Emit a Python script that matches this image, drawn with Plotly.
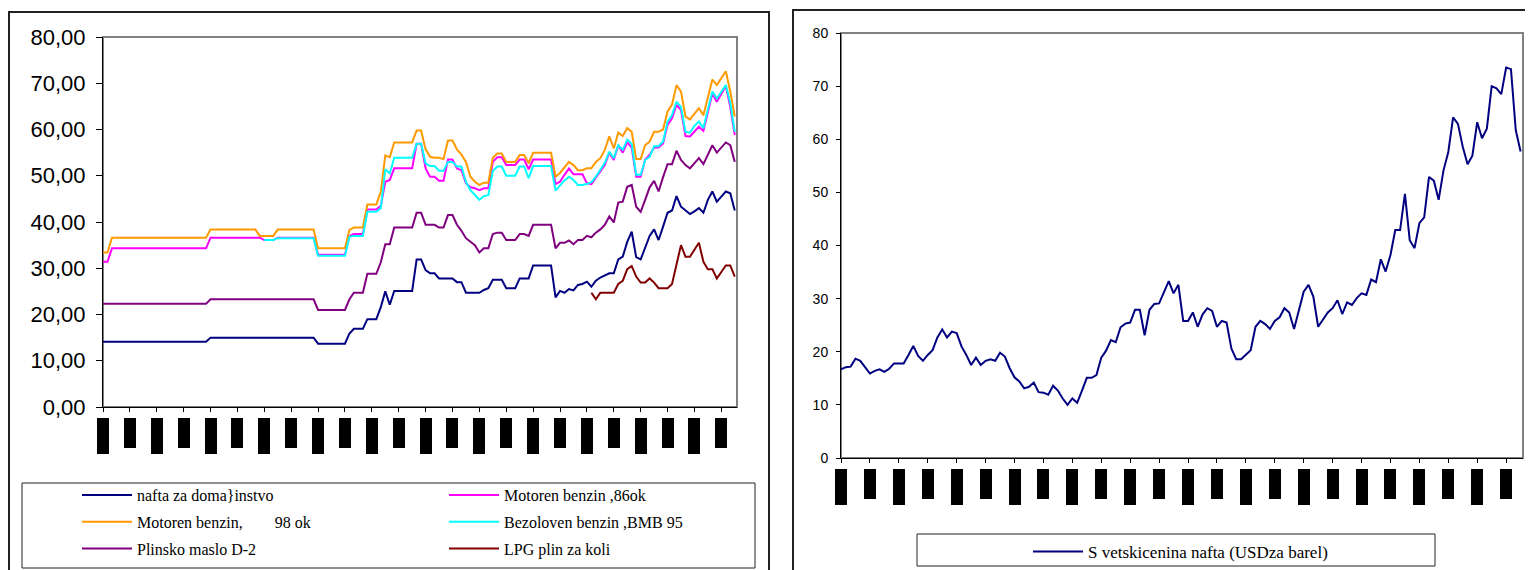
import plotly.graph_objects as go

# The page body has an 8px default margin, so the figure is sized to fill the
# remaining window and every pixel position below is given in window pixels.
OX, OY = 8, 8
W, H = 1533 - OX, 570 - OY


def px(x):
    return (x - OX) / W


def py(y):
    return 1 - (y - OY) / H


# ---------------- data ----------------
months = list(range(142))            # monthly categories (index)
tick_months = list(range(0, 139, 6))  # one tick label every 6 months
left_ytick = [0, 10, 20, 30, 40, 50, 60, 70, 80]
left_yticktext = ["0,00", "10,00", "20,00", "30,00", "40,00", "50,00", "60,00", "70,00", "80,00"]
right_ytick = [0, 10, 20, 30, 40, 50, 60, 70, 80]

nafta = [
    14.1, 14.1, 14.1, 14.1, 14.1, 14.1, 14.1, 14.1, 14.1, 14.1, 14.1, 14.1,
    14.1, 14.1, 14.1, 14.1, 14.1, 14.1, 14.1, 14.1, 14.1, 14.1, 14.1, 14.1,
    15.0, 15.0, 15.0, 15.0, 15.0, 15.0, 15.0, 15.0, 15.0, 15.0, 15.0, 15.0,
    15.0, 15.0, 15.0, 15.0, 15.0, 15.0, 15.0, 15.0, 15.0, 15.0, 15.0, 15.0,
    13.7, 13.7, 13.7, 13.7, 13.7, 13.7, 13.7,
    15.9, 16.9, 16.9, 16.9, 19.0, 19.0, 19.0, 21.6, 25.0, 22.1,
    25.1, 25.1, 25.1, 25.1, 25.1, 31.9, 31.9, 29.6, 28.9, 28.9,
    27.8, 27.8, 27.8, 27.8, 27.0, 27.0, 24.7, 24.7, 24.7, 24.7,
    25.3, 25.7, 27.5, 27.5, 27.5, 25.7, 25.7, 25.7, 27.8, 27.8,
    27.8, 30.6, 30.6, 30.6, 30.6, 30.6,
    23.7, 25.1, 24.7, 25.5, 25.2, 26.4, 26.6, 27.1, 26.0, 27.3,
    28.0, 28.5, 28.9, 28.9, 31.9, 32.5, 35.7, 37.9, 32.4, 31.9,
    34.5, 37.0, 38.4, 36.1, 39.0, 42.0, 42.5, 45.6, 43.3, 42.5,
    41.7, 42.3, 43.0, 42.0, 44.8, 46.6, 44.4, 45.5, 46.6, 46.2, 42.5,
]

benzin86 = [
    31.4, 31.4,
    34.3, 34.3, 34.3, 34.3, 34.3, 34.3, 34.3, 34.3, 34.3, 34.3, 34.3,
    34.3, 34.3, 34.3, 34.3, 34.3, 34.3, 34.3, 34.3, 34.3, 34.3, 34.3,
    36.6, 36.6, 36.6, 36.6, 36.6, 36.6, 36.6, 36.6, 36.6, 36.6, 36.6, 36.6,
    36.1, 36.1, 36.1,
    36.6, 36.6, 36.6, 36.6, 36.6, 36.6, 36.6, 36.6, 36.6,
    32.9, 32.9, 32.9, 32.9, 32.9, 32.9, 32.9,
    37.0, 37.4, 37.4, 37.4, 42.7, 42.7, 42.7, 43.5, 48.7, 49.1,
    51.6, 51.6, 51.6, 51.6, 51.6, 56.9, 56.9, 51.6, 49.8, 49.8,
    48.9, 48.9, 53.5, 53.5, 51.6, 51.2, 48.4, 47.5, 47.3, 46.9,
    47.3, 47.3, 53.0, 54.0, 54.0, 52.3, 52.3, 52.3, 53.5, 53.5,
    51.4, 53.5, 53.5, 53.5, 53.5, 53.5,
    48.2, 48.7, 50.2, 51.6, 50.3, 50.3, 50.3, 48.4, 48.2, 49.6,
    50.9, 52.3, 55.0, 53.4, 56.6, 55.0, 57.2, 56.1, 49.8, 49.8,
    53.5, 54.5, 56.1, 56.1, 57.0, 61.0, 62.4, 65.3, 64.2, 58.6,
    58.5, 59.6, 60.6, 59.7, 63.8, 67.8, 66.0, 67.7, 69.4, 64.9, 58.8,
]

benzin98 = [
    33.4, 33.4,
    36.6, 36.6, 36.6, 36.6, 36.6, 36.6, 36.6, 36.6, 36.6, 36.6, 36.6,
    36.6, 36.6, 36.6, 36.6, 36.6, 36.6, 36.6, 36.6, 36.6, 36.6, 36.6,
    38.4, 38.4, 38.4, 38.4, 38.4, 38.4, 38.4, 38.4, 38.4, 38.4, 38.4,
    37.0, 37.0, 37.0, 37.0,
    38.4, 38.4, 38.4, 38.4, 38.4, 38.4, 38.4, 38.4, 38.4,
    34.3, 34.3, 34.3, 34.3, 34.3, 34.3, 34.3,
    38.3, 38.8, 38.8, 38.8, 43.8, 43.8, 43.8, 46.5, 54.4, 54.0,
    57.2, 57.2, 57.2, 57.2, 57.2, 59.8, 59.8, 55.7, 54.1, 53.9,
    53.9, 53.6, 57.6, 57.6, 55.7, 54.6, 53.0, 49.8, 48.7, 48.0,
    48.5, 48.5, 53.9, 54.8, 54.8, 53.0, 53.0, 53.0, 54.5, 54.5,
    52.7, 55.0, 55.0, 55.0, 55.0, 55.0,
    49.8, 50.6, 51.8, 53.0, 52.3, 51.2, 51.2, 51.6, 51.6, 53.0,
    53.8, 55.6, 58.5, 55.9, 59.3, 58.6, 60.3, 59.5, 53.6, 53.6,
    56.6, 57.4, 59.5, 59.5, 60.0, 63.9, 65.4, 69.6, 68.2, 62.8,
    62.2, 63.4, 64.6, 63.1, 67.0, 70.8, 69.6, 71.2, 72.6, 68.2, 62.8,
]

bmb95_start = 36
bmb95 = [
    36.1, 36.1, 36.1,
    36.5, 36.5, 36.5, 36.5, 36.5, 36.5, 36.5, 36.5, 36.5,
    32.7, 32.7, 32.7, 32.7, 32.7, 32.7, 32.7,
    36.8, 37.0, 37.0, 37.0, 42.2, 42.2, 42.2, 43.0, 51.4, 50.5,
    53.9, 53.9, 53.9, 53.9, 53.9, 56.9, 56.9, 52.7, 52.1, 52.1,
    51.1, 51.1, 53.0, 53.0, 52.0, 52.0, 48.7, 46.9, 45.8, 44.8,
    45.6, 45.8, 51.0, 52.0, 52.0, 50.0, 50.0, 50.0, 52.0, 52.0,
    49.5, 52.1, 52.1, 52.1, 52.1, 52.1,
    46.8, 48.0, 49.0, 49.8, 49.1, 48.0, 48.0, 48.2, 48.6, 49.8,
    51.2, 52.8, 55.2, 53.8, 56.6, 55.6, 57.8, 56.9, 50.2, 50.2,
    53.4, 54.1, 56.4, 56.4, 57.4, 61.7, 63.1, 66.0, 64.9, 59.5,
    59.3, 60.8, 61.7, 60.3, 64.3, 68.2, 66.7, 68.2, 69.6, 65.8, 59.5,
]

d2 = [
    22.3, 22.3, 22.3, 22.3, 22.3, 22.3, 22.3, 22.3, 22.3, 22.3, 22.3, 22.3,
    22.3, 22.3, 22.3, 22.3, 22.3, 22.3, 22.3, 22.3, 22.3, 22.3, 22.3, 22.3,
    23.3, 23.3, 23.3, 23.3, 23.3, 23.3, 23.3, 23.3, 23.3, 23.3, 23.3, 23.3,
    23.3, 23.3, 23.3, 23.3, 23.3, 23.3, 23.3, 23.3, 23.3, 23.3, 23.3, 23.3,
    21.0, 21.0, 21.0, 21.0, 21.0, 21.0, 21.0,
    23.3, 24.7, 24.7, 24.7, 28.8, 28.8, 28.8, 31.3, 35.2, 35.2,
    38.8, 38.8, 38.8, 38.8, 38.8, 42.0, 42.0, 39.4, 39.4, 39.4,
    38.8, 38.8, 41.5, 41.5, 39.4, 38.1, 36.5, 35.7, 35.0, 33.4,
    34.3, 34.3, 37.4, 37.7, 37.7, 36.1, 36.1, 36.1, 37.4, 37.4,
    37.0, 39.4, 39.4, 39.4, 39.4, 39.4,
    34.3, 35.5, 35.5, 36.0, 35.2, 36.1, 36.1, 37.0, 36.7, 37.7,
    38.4, 39.4, 41.2, 39.9, 44.2, 44.4, 47.6, 48.0, 43.3, 42.2,
    44.8, 47.5, 48.9, 46.6, 49.7, 52.5, 52.5, 55.4, 53.4, 52.3,
    51.6, 52.7, 53.8, 52.5, 54.5, 56.6, 55.0, 56.2, 57.2, 56.6, 53.0,
]

lpg_start = 109
lpg = [
    24.7, 23.3, 24.7, 24.7, 24.7, 24.7, 26.6, 27.3, 29.8, 30.5,
    28.2, 26.9, 26.9, 27.8, 26.9, 25.7, 25.7, 25.7, 26.6, 30.9,
    35.0, 32.5, 32.5, 34.0, 35.5, 31.4, 29.8, 29.8, 27.8, 29.2,
    30.6, 30.6, 28.2,
]

crude = [
    16.7, 17.1, 17.2, 18.7, 18.3, 17.1, 15.9, 16.4, 16.7, 16.2,
    16.8, 17.8, 17.8, 17.8, 19.4, 21.1, 19.2, 18.3, 19.4, 20.3,
    22.7, 24.2, 22.7, 23.8, 23.5, 21.0, 19.4, 17.5, 18.9, 17.5,
    18.3, 18.6, 18.3, 19.8, 19.1, 16.9, 15.2, 14.4, 13.1, 13.4,
    14.2, 12.4, 12.3, 11.9, 13.6, 12.7, 11.2, 10.0, 11.2, 10.4,
    12.7, 15.1, 15.1, 15.6, 18.9, 20.2, 22.2, 21.8, 24.6, 25.3,
    25.5, 27.9, 27.9, 23.1, 27.9, 29.0, 29.1, 31.2, 33.3, 31.0,
    32.6, 25.8, 25.8, 27.4, 24.7, 27.0, 28.2, 27.7, 24.7, 25.8,
    25.5, 20.6, 18.6, 18.6, 19.4, 20.3, 24.7, 25.8, 25.2, 24.3,
    25.8, 26.5, 28.2, 27.4, 24.3, 28.0, 31.3, 32.6, 30.4, 24.7,
    26.0, 27.4, 28.2, 29.7, 27.1, 29.3, 28.8, 30.1, 31.0, 30.7,
    33.6, 33.1, 37.4, 35.1, 38.2, 42.9, 42.9, 49.7, 41.0, 39.5,
    44.2, 45.3, 52.9, 52.2, 48.6, 54.1, 57.6, 64.1, 62.9, 58.6,
    55.3, 56.9, 63.2, 60.2, 62.0, 70.0, 69.6, 68.5, 73.5, 73.2,
    61.7, 57.7,
]

left_series = [
    ("nafta za doma}instvo", nafta, 0, "#000080", "legend"),
    ("Motoren benzin ,86ok", benzin86, 0, "#FF00FF", "legend2"),
    ("Motoren benzin,\u00a0\u00a0\u00a0\u00a0\u00a0\u00a0\u00a0\u00a098 ok", benzin98, 0, "#FF9900", "legend"),
    ("Bezoloven benzin ,BMB 95", bmb95, bmb95_start, "#00FFFF", "legend2"),
    ("Plinsko maslo D-2", d2, 0, "#800080", "legend"),
    ("LPG plin za koli", lpg, lpg_start, "#800000", "legend2"),
]
right_name = "S vetskicenina nafta (USDza barel)"

# ---------------- figure ----------------
fig = go.Figure()
for k, (name, vals, start, color, leg) in enumerate(left_series):
    fig.add_trace(go.Scatter(
        x=months[start:start + len(vals)], y=vals, name=name, mode="lines",
        line=dict(color=color, width=2), xaxis="x", yaxis="y",
        legend=leg, legendgroup="g%d" % k, hoverinfo="skip",
    ))
fig.add_trace(go.Scatter(
    x=months[:len(crude)], y=crude, name=right_name, mode="lines",
    line=dict(color="#000080", width=2), xaxis="x2", yaxis="y2",
    legend="legend3", hoverinfo="skip",
))

XR = [0, 141.5]
axis_common = dict(showgrid=False, zeroline=False, showline=True, linecolor="black",
                   linewidth=1, ticks="outside", tickcolor="black", tickwidth=1,
                   fixedrange=True)
leg_font = dict(family="Liberation Serif", size=16, color="black")

fig.update_layout(
    width=W, height=H, margin=dict(l=0, r=0, t=0, b=0, autoexpand=False),
    paper_bgcolor="white", plot_bgcolor="white", showlegend=True,
    xaxis=dict(domain=[px(103), px(737)], range=XR, anchor="y",
               tickvals=tick_months, ticklen=4, showticklabels=False, **axis_common),
    yaxis=dict(domain=[py(407), py(37)], range=[0, 80], anchor="x",
               tickvals=left_ytick, ticktext=left_yticktext, ticklen=6,
               ticklabelstandoff=6,
               tickfont=dict(family="Liberation Sans", size=22, color="black"),
               **axis_common),
    xaxis2=dict(domain=[px(841), px(1523)], range=XR, anchor="y2",
                tickvals=tick_months, ticklen=4, showticklabels=False, **axis_common),
    yaxis2=dict(domain=[py(458), py(33)], range=[0, 80], anchor="x2",
                tickvals=right_ytick, ticklen=4, ticklabelstandoff=5,
                tickfont=dict(family="Liberation Sans", size=14, color="black"),
                **axis_common),
    legend=dict(x=px(77), y=py(478), xanchor="left", yanchor="top",
                bgcolor="rgba(0,0,0,0)", borderwidth=0, tracegroupgap=3,
                itemwidth=50, font=leg_font),
    legend2=dict(x=px(444), y=py(478), xanchor="left", yanchor="top",
                 bgcolor="rgba(0,0,0,0)", borderwidth=0, tracegroupgap=3,
                 itemwidth=50, font=leg_font),
    legend3=dict(x=px(1028), y=py(534), xanchor="left", yanchor="top",
                 bgcolor="rgba(0,0,0,0)", borderwidth=0,
                 itemwidth=50, font=dict(family="Liberation Serif", size=17, color="black")),
)

shapes = []
# plot-area frames (grey)
shapes.append(dict(type="rect", xref="paper", yref="paper", x0=px(103), x1=px(737),
                   y0=py(407), y1=py(37), line=dict(color="#808080", width=2), layer="below"))
shapes.append(dict(type="rect", xref="paper", yref="paper", x0=px(841), x1=px(1523),
                   y0=py(458), y1=py(33), line=dict(color="#808080", width=2), layer="below"))
# outer chart borders
shapes.append(dict(type="rect", xref="paper", yref="paper", x0=px(9), x1=px(769),
                   y0=py(580), y1=py(12), line=dict(color="#222222", width=2)))
shapes.append(dict(type="rect", xref="paper", yref="paper", x0=px(793), x1=px(1545),
                   y0=py(580), y1=py(10), line=dict(color="#222222", width=2)))
# legend boxes
shapes.append(dict(type="rect", xref="paper", yref="paper", x0=px(22), x1=px(755),
                   y0=py(568), y1=py(483), line=dict(color="#222222", width=1)))
shapes.append(dict(type="rect", xref="paper", yref="paper", x0=px(917), x1=px(1435),
                   y0=py(566), y1=py(534), line=dict(color="#222222", width=1)))
fig.update_layout(shapes=shapes)

# category labels (rendered as solid blocks in the source image)
annotations = []
for xr, top in (("x", 418), ("x2", 469)):
    for j, m in enumerate(tick_months):
        annotations.append(dict(
            x=m, xref=xr, y=py(top), yref="paper", xanchor="center", yanchor="top",
            text=" ", showarrow=False, width=12, height=36 if j % 2 == 0 else 30,
            bgcolor="black", borderpad=0, borderwidth=0,
        ))
fig.update_layout(annotations=annotations)

fig.write_html("out.html")
